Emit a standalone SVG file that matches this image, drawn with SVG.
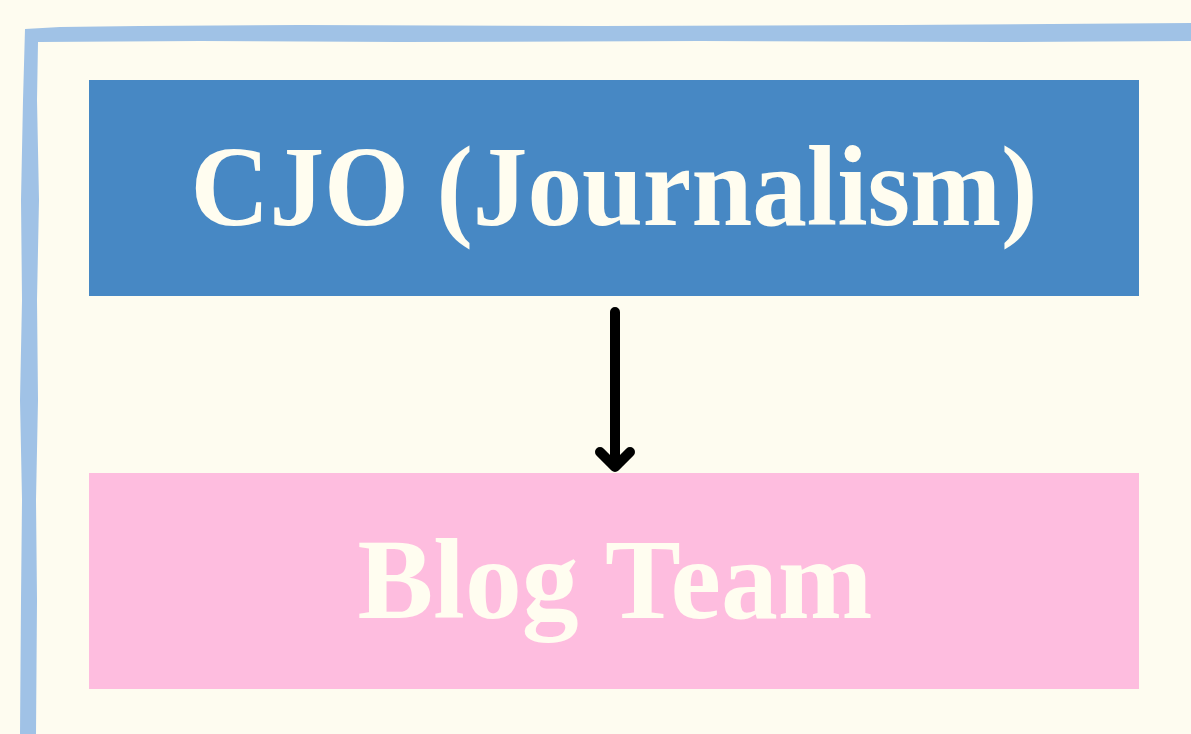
<svg xmlns="http://www.w3.org/2000/svg" width="1191" height="734" viewBox="0 0 1191 734">
<style>
.lbl{font-family:"Liberation Serif","DejaVu Serif",serif;font-weight:bold;font-size:114px;fill:#FFFDF0;text-anchor:middle}
.conn{stroke:#000;stroke-width:10;stroke-linecap:round;stroke-linejoin:round;fill:none}
.frame{fill:#A0C2E6}
</style>
<rect width="1191" height="734" fill="#FEFCF0"/>
<g id="frame">
<path class="frame" d="M25,29 L60,27 L140,26 L300,25 L600,26 L900,25 L1191,23 L1191,41 L1000,42 L700,41 L400,42 L200,41 L38,42 L37,100 L39,200 L37,300 L38,400 L36,500 L37,600 L36,734 L20,734 L21,600 L22,500 L20,400 L22,300 L21,200 L23,100 Z"/>
</g>
<g id="cjo">
<rect x="89" y="80" width="1050" height="216" fill="#4788C4"/>
<text class="lbl" x="614" y="225" textLength="847" lengthAdjust="spacingAndGlyphs">CJO (Journalism)</text>
</g>
<g id="blog">
<rect x="89" y="473" width="1050" height="216" fill="#FEBDDF"/>
<text class="lbl" x="615" y="618" textLength="515" lengthAdjust="spacingAndGlyphs">Blog Team</text>
</g>
<g id="connectors">
<path class="conn" d="M615,312 L615,467 M600,452 L615,467 L630,452"/>
</g>
</svg>
